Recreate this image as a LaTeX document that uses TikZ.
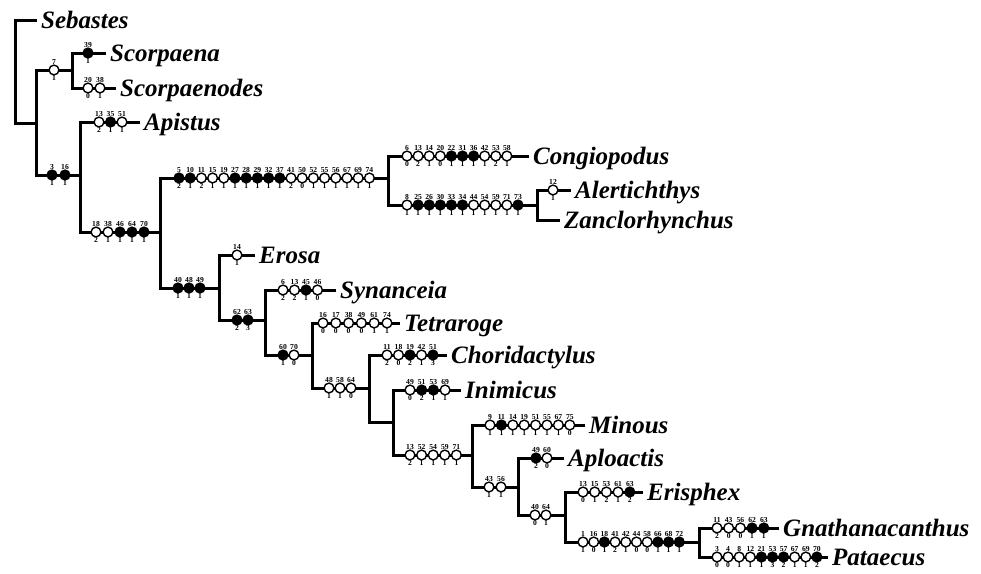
\documentclass[tikz,border=0pt]{standalone}
\usepackage{fontspec}
\setmainfont{Liberation Serif}
\newcommand\chrs[5]{%
  \foreach \n/\f/\s [count=\i] in {#5} {%
    \node[\f, label={[numlab]above:\n}, label={[numlab]below:\s}] (#1-\i) at ({#2+(\i-1)*#4},#3) {};
  }%
}
\begin{document}
\begin{tikzpicture}[x=1pt,y=-1pt,
  br/.style={line width=3pt,line join=miter},
  oc/.style={circle,draw,line width=1.4pt,fill=white,minimum size=9.8pt,inner sep=0pt,label distance=1.8pt},
  fc/.style={oc,fill=black},
  numlab/.style={font=\bfseries\fontsize{7.6}{7.6}\selectfont,inner sep=0pt},
  taxon/.style={anchor=west,font=\bfseries\itshape\fontsize{25}{25}\selectfont,inner xsep=4pt,inner ysep=0pt,text height=16.5pt,text depth=0pt}]
\useasboundingbox (0,0) rectangle (981,573);
% taxa
\node[taxon] (tSeb) at (37,20) {Sebastes};
\node[taxon] (tSca) at (106,53) {Scorpaena};
\node[taxon] (tScd) at (116,88) {Scorpaenodes};
\node[taxon] (tApi) at (140,122) {Apistus};
\node[taxon] (tCon) at (529,156) {Congiopodus};
\node[taxon] (tAle) at (571,190) {Alertichthys};
\node[taxon] (tZan) at (560,220) {Zanclorhynchus};
\node[taxon] (tEro) at (255,255) {Erosa};
\node[taxon] (tSyn) at (336,290) {Synanceia};
\node[taxon] (tTet) at (400,323) {Tetraroge};
\node[taxon] (tCho) at (447,355) {Choridactylus};
\node[taxon] (tIni) at (461,390) {Inimicus};
\node[taxon] (tMin) at (585,425) {Minous};
\node[taxon] (tApl) at (564,458) {Aploactis};
\node[taxon] (tEri) at (643,492) {Erisphex};
\node[taxon] (tGna) at (779,528) {Gnathanacanthus};
\node[taxon] (tPat) at (828,557) {Pataecus};
% internal junctions
\coordinate (B) at (36,123);
\coordinate (C) at (72,70);
\coordinate (D) at (80,175);
\coordinate (E) at (160,232);
\coordinate (F) at (388,178);
\coordinate (H) at (537,205);
\coordinate (G) at (219,288);
\coordinate (I) at (265,320);
\coordinate (J) at (312,355);
\coordinate (K) at (369,388);
\coordinate (L) at (393,422);
\coordinate (M) at (472,455);
\coordinate (N) at (518,487);
\coordinate (O) at (565,515);
\coordinate (P) at (699,542);
% branches
\draw[br] (tSeb.west) -- (15,20) -- (15,123) -- (B);
\draw[br] (C) -- (36,70) -- (36,175) -- (D);
\draw[br] (tSca.west) -- (72,53) -- (72,88) -- (tScd.west);
\draw[br] (tApi.west) -- (80,122) -- (80,232) -- (E);
\draw[br] (F) -- (160,178) -- (160,288) -- (G);
\draw[br] (tCon.west) -- (388,156) -- (388,205) -- (H);
\draw[br] (tAle.west) -- (537,190) -- (537,220) -- (tZan.west);
\draw[br] (tEro.west) -- (219,255) -- (219,320) -- (I);
\draw[br] (tSyn.west) -- (265,290) -- (265,355) -- (J);
\draw[br] (tTet.west) -- (312,323) -- (312,388) -- (K);
\draw[br] (tCho.west) -- (369,355) -- (369,422) -- (L);
\draw[br] (tIni.west) -- (393,390) -- (393,455) -- (M);
\draw[br] (tMin.west) -- (472,425) -- (472,487) -- (N);
\draw[br] (tApl.west) -- (518,458) -- (518,515) -- (O);
\draw[br] (tEri.west) -- (565,492) -- (565,542) -- (P);
\draw[br] (tGna.west) -- (699,528) -- (699,557) -- (tPat.west);
% character states
\chrs{c}{54}{70}{0}{7/oc/1}
\chrs{sca}{88}{53}{0}{39/fc/1}
\chrs{scd}{88}{88}{12}{20/oc/0,38/oc/1}
\chrs{d}{52}{175}{13}{3/fc/1,16/fc/1}
\chrs{api}{99}{122}{11.5}{13/oc/2,35/fc/1,51/oc/1}
\chrs{e}{96}{232}{12}{18/oc/2,38/oc/1,46/fc/1,64/fc/1,70/fc/1}
\chrs{f}{179}{178}{11.2}{5/fc/2,10/fc/1,11/oc/2,15/oc/1,19/oc/1,27/fc/1,28/fc/1,29/fc/1,32/fc/1,37/fc/1,41/oc/2,50/oc/0,52/oc/1,55/oc/1,56/oc/1,67/oc/1,69/oc/1,74/oc/1}
\chrs{con}{407}{156}{11.1}{6/oc/0,13/oc/2,14/oc/1,20/oc/0,22/fc/1,31/fc/1,36/fc/1,42/oc/1,53/oc/2,58/oc/1}
\chrs{h}{407}{205}{11.1}{8/oc/1,25/fc/1,26/fc/1,30/fc/1,33/fc/1,34/fc/1,44/oc/1,54/oc/1,59/oc/1,71/oc/1,73/fc/1}
\chrs{ale}{553}{190}{0}{12/oc/1}
\chrs{g}{178}{288}{11}{40/fc/1,48/fc/1,49/fc/1}
\chrs{ero}{237}{255}{0}{14/oc/1}
\chrs{i}{237}{320}{11}{62/fc/2,63/fc/3}
\chrs{syn}{283}{290}{11.5}{6/oc/2,13/oc/2,45/fc/1,46/oc/0}
\chrs{j}{283}{355}{11}{60/fc/1,70/oc/0}
\chrs{tet}{323}{323}{12.8}{16/oc/0,17/oc/0,38/oc/0,49/oc/0,61/oc/1,74/oc/1}
\chrs{k}{329}{388}{11}{48/oc/1,58/oc/1,64/oc/0}
\chrs{cho}{387}{355}{11.5}{11/oc/2,18/oc/0,19/fc/2,42/oc/1,51/fc/3}
\chrs{ini}{410}{390}{11.7}{49/oc/0,51/fc/2,53/fc/1,69/oc/1}
\chrs{m}{410}{455}{11.6}{13/oc/2,52/oc/1,54/oc/1,59/oc/1,71/oc/1}
\chrs{min}{490}{425}{11.4}{9/oc/1,11/fc/1,14/oc/1,19/oc/1,51/oc/1,55/oc/1,67/oc/1,75/oc/0}
\chrs{n}{489}{487}{12}{43/oc/1,56/oc/1}
\chrs{apl}{536}{458}{11}{49/fc/2,60/oc/0}
\chrs{o}{535}{515}{11}{40/oc/0,64/oc/1}
\chrs{eri}{583}{492}{11.7}{13/oc/0,15/oc/1,53/oc/2,61/oc/1,63/fc/2}
\chrs{p}{583}{542}{10.7}{1/oc/1,16/oc/0,18/fc/1,41/oc/2,42/oc/1,44/oc/0,58/oc/0,66/fc/1,68/fc/1,72/fc/1}
\chrs{gna}{717}{528}{11.7}{11/oc/2,43/oc/0,56/oc/0,62/fc/1,63/fc/1}
\chrs{pat}{717}{557}{11.1}{3/oc/0,4/oc/0,8/oc/1,12/oc/1,21/fc/1,53/fc/3,57/fc/2,67/oc/1,69/oc/1,70/fc/2}
\end{tikzpicture}
\end{document}
